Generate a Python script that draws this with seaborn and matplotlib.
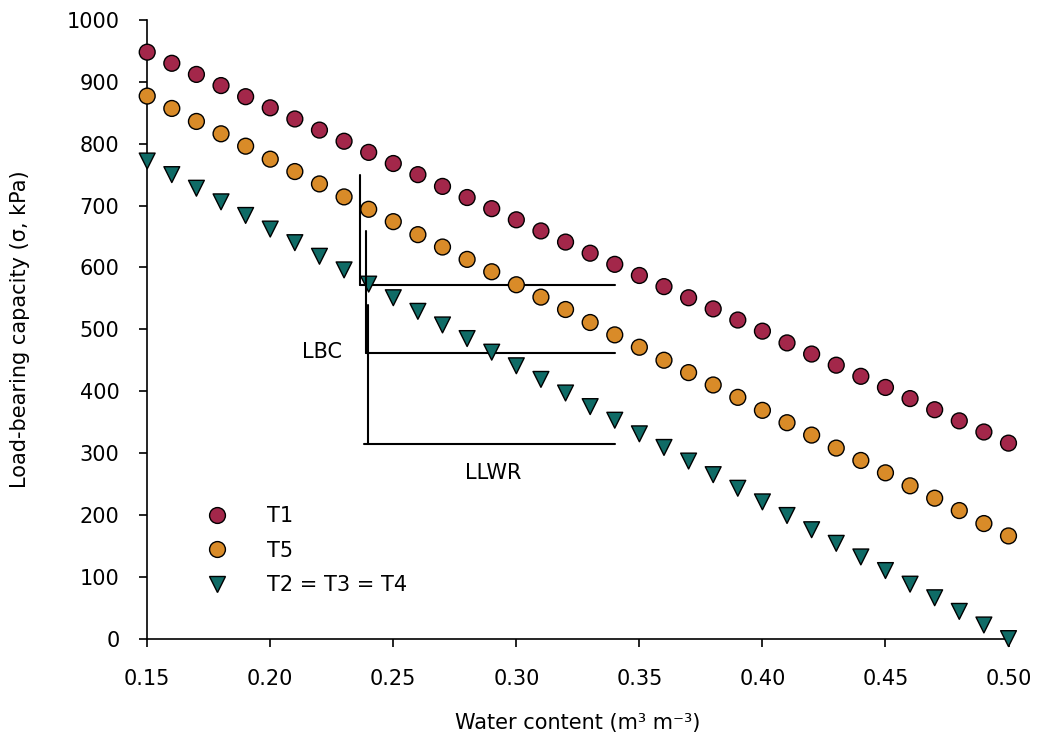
import numpy as np
import pandas as pd
import matplotlib
matplotlib.use("Agg")
import matplotlib.pyplot as plt
import seaborn as sns

# water content (m3 m-3)
water = [0.15, 0.16, 0.17, 0.18, 0.19, 0.20, 0.21, 0.22, 0.23, 0.24, 0.25, 0.26,
         0.27, 0.28, 0.29, 0.30, 0.31, 0.32, 0.33, 0.34, 0.35, 0.36, 0.37, 0.38,
         0.39, 0.40, 0.41, 0.42, 0.43, 0.44, 0.45, 0.46, 0.47, 0.48, 0.49, 0.50]

t1 = [948, 930, 912, 894, 876, 858, 840, 822, 804, 786, 768, 750,
      731, 713, 695, 677, 659, 641, 623, 605, 587, 569, 551, 533,
      515, 497, 478, 460, 442, 424, 406, 388, 370, 352, 334, 316]

t5 = [877, 857, 836, 816, 796, 775, 755, 735, 714, 694, 674, 653,
      633, 613, 593, 572, 552, 532, 511, 491, 471, 450, 430, 410,
      390, 369, 349, 329, 308, 288, 268, 247, 227, 207, 186, 166]

t234 = [772, 750, 728, 706, 684, 662, 640, 618, 596, 573, 551, 529,
        507, 485, 463, 441, 419, 397, 375, 353, 331, 309, 287, 265,
        243, 221, 199, 176, 154, 132, 110, 88, 66, 44, 22, 0]

labels = ["T1", "T5", "T2 = T3 = T4"]

df = pd.DataFrame({
    "water": water * 3,
    "lbc": t1 + t5 + t234,
    "treat": [labels[0]] * len(water) + [labels[1]] * len(water) + [labels[2]] * len(water),
})

sns.set_style("ticks")
plt.rcParams['font.family'] = ['DejaVu Sans']
for k in ["text.color", "axes.labelcolor", "xtick.color", "ytick.color", "axes.edgecolor"]:
    plt.rcParams[k] = "black"

fs = 15
fig, ax = plt.subplots(figsize=(10.44, 7.4), dpi=100)
palette = {"T1": "#a3274a", "T5": "#d98b28", "T2 = T3 = T4": "#0f6b66"}
markers = {"T1": "o", "T5": "o", "T2 = T3 = T4": "v"}
sns.scatterplot(data=df, x="water", y="lbc", hue="treat", style="treat",
                palette=palette, markers=markers, s=130, edgecolor="black",
                linewidth=1, ax=ax, zorder=3, clip_on=False)

# LBC / LLWR guide lines
lw = 1.5
ax.plot([0.2366, 0.2366], [750, 572], color="black", lw=lw, zorder=4)
ax.plot([0.2366, 0.34], [572, 572], color="black", lw=lw, zorder=2)
ax.plot([0.239, 0.239], [659, 462], color="black", lw=lw, zorder=4)
ax.plot([0.239, 0.34], [462, 462], color="black", lw=lw, zorder=2)
ax.plot([0.2398, 0.2398], [540, 315], color="black", lw=lw, zorder=4)
ax.plot([0.238, 0.34], [315, 315], color="black", lw=lw, zorder=2)
ax.text(0.221, 463, "LBC", fontsize=fs, ha="center", va="center")
ax.text(0.2905, 267, "LLWR", fontsize=fs, ha="center", va="center")

ax.set_xlim(0.15, 0.50)
ax.set_ylim(0, 1000)
ax.set_xticks(np.arange(0.15, 0.501, 0.05))
ax.set_xticklabels([f"{v:.2f}" for v in np.arange(0.15, 0.501, 0.05)])
ax.set_yticks(np.arange(0, 1001, 100))
ax.tick_params(axis="y", labelsize=fs, length=6, width=1.2, direction="out", pad=14)
ax.tick_params(axis="x", labelsize=fs, length=6, width=1.2, direction="out", pad=16)
ax.set_xlabel("Water content (m³ m⁻³)", fontsize=fs, labelpad=17)
ax.set_ylabel("Load-bearing capacity (σ, kPa)", fontsize=fs, labelpad=26)
sns.despine(ax=ax)
for s in ["left", "bottom"]:
    ax.spines[s].set_linewidth(1.2)

leg = ax.legend(loc="lower left", bbox_to_anchor=(0.035, 0.04), frameon=False,
                fontsize=fs, handletextpad=1.4, labelspacing=0.7, title=None,
                markerscale=1.0)

plt.subplots_adjust(left=0.141, right=0.966, top=0.973, bottom=0.137)
plt.savefig("out.png", dpi=100)
